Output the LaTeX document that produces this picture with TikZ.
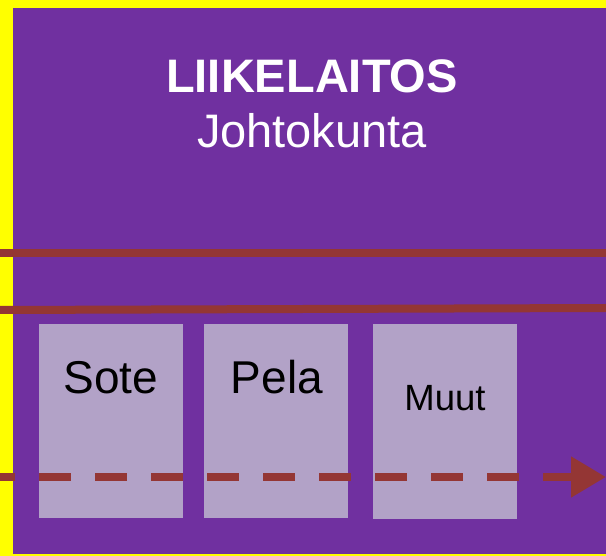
\documentclass[tikz,border=0pt]{standalone}
\usepackage{fontspec}
\setmainfont{Liberation Sans}
\usetikzlibrary{arrows.meta}
\definecolor{bgpurple}{HTML}{7030A0}
\definecolor{frameyellow}{HTML}{FFFF00}
\definecolor{linered}{HTML}{943634}
\definecolor{boxlilac}{HTML}{B2A2C7}
\tikzset{
  redline/.style={draw=linered, line width=8pt, line cap=butt},
  dashline/.style={draw=linered, line width=8pt, line cap=butt, dash pattern=on 32pt off 24pt, dash phase=17pt, -{Triangle[length=35pt,width=39pt]}},
  unitbox/.style={fill=boxlilac, draw=none, minimum width=144pt, minimum height=194pt, inner sep=0pt},
  unittext/.style={anchor=base, inner sep=0pt, text=black, font=\fontsize{46}{52}\selectfont},
  titletext/.style={anchor=base, inner sep=0pt, text=white, font=\fontsize{47}{56}\selectfont}
}
\begin{document}
\begin{tikzpicture}[x=1pt,y=-1pt]
\useasboundingbox (0,0) rectangle (606,556);
\fill[frameyellow] (0,0) rectangle (606,556);
\fill[bgpurple] (13,8) rectangle (606,554);
% horizontal lines
\coordinate (l1a) at (0,253);
\coordinate (l1b) at (606,253);
\coordinate (l2a) at (0,310);
\coordinate (l2b) at (606,308);
\draw[redline] (l1a) -- (l1b);
\draw[redline] (l2a) -- (l2b);
% title
\node[titletext, font=\fontsize{47}{56}\selectfont\bfseries] (title) at (312,93) {LIIKELAITOS};
\node[titletext] (sub) at (312,148) {Johtokunta};
% boxes
\node[unitbox] (sote) at (111,421) {};
\node[unitbox] (pela) at (276,421) {};
\node[unitbox] (muut) at (445,421.5) {};
\node[unittext] (sotet) at (111,394) {Sote};
\node[unittext] (pelat) at (277,394) {Pela};
\node[unittext, font=\fontsize{36.5}{44}\selectfont] (muutt) at (445,410) {Muut};
% dashed arrow
\coordinate (da) at (0,477);
\coordinate (db) at (606,477);
\draw[dashline] (da) -- (db);
\end{tikzpicture}
\end{document}
